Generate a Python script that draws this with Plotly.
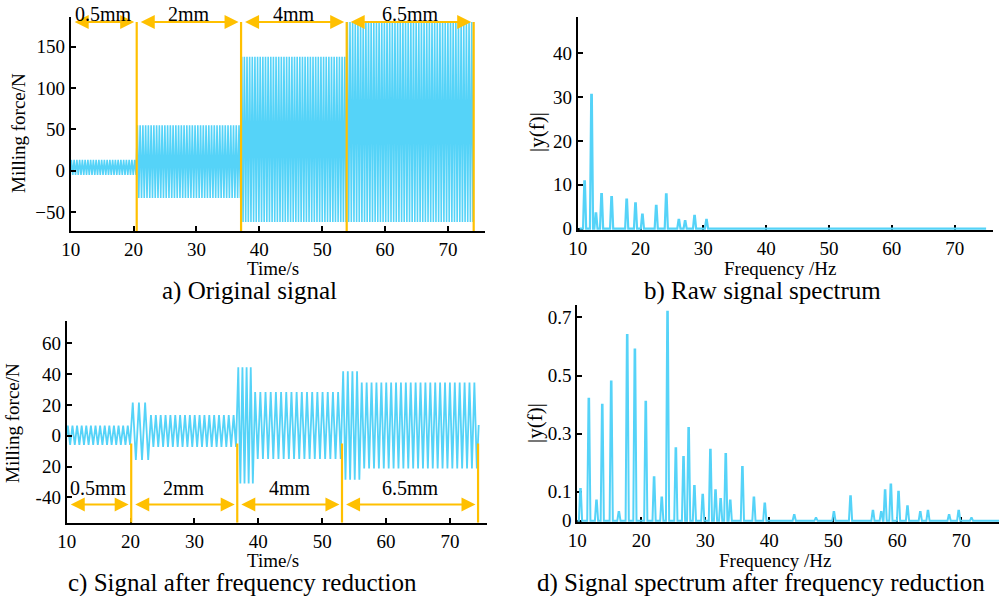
import plotly.graph_objects as go

# ---------------- data ----------------
# a) original signal: segments (start, end, upper, lower, cycles)
a_start = [10.0, 20.5, 37.1, 53.9]
a_end = [20.5, 37.1, 53.9, 74.1]
a_upper = [13, 55, 138, 180]
a_lower = [-5, -33, -62, -62]
a_cycles = [24, 38, 40, 48]
a_bounds = [20.5, 37.1, 53.9, 74.1]
depth_labels = ["0.5mm", "2mm", "4mm", "6.5mm"]

# b) raw signal spectrum peaks
b_freq = [11.1, 12.2, 12.9, 13.8, 15.4, 17.8, 19.2, 20.3, 22.5, 24.1, 26.1, 27.1, 28.6, 30.5]
b_amp = [10.8, 30.5, 3.5, 7.9, 7.2, 6.6, 5.8, 3.2, 5.2, 7.8, 2.0, 1.7, 2.9, 2.0]

# c) signal after frequency reduction
c_start = [10.0, 20.1, 23.0, 36.7, 39.3, 53.1, 56.0]
c_end = [20.1, 23.0, 36.7, 39.3, 53.1, 56.0, 74.4]
c_upper = [6.5, 21.6, 13.4, 44.4, 28.3, 41.8, 34.6]
c_lower = [-6.0, -15.8, -7.3, -31.0, -15.1, -28.6, -21.2]
c_cycles = [14, 3, 18, 4, 17, 4, 24]
c_bounds = [20.1, 36.7, 53.1, 74.4]

# d) spectrum after frequency reduction
d_freq = [10.5, 11.8, 13.0, 13.9, 15.3, 16.5, 17.8, 19.0, 20.7, 22.0, 23.2, 24.1, 25.4,
          26.6, 27.4, 28.3, 29.6, 30.8, 31.6, 32.4, 33.2, 33.9, 35.8, 37.6, 39.3, 43.9,
          47.3, 50.1, 52.7, 56.2, 57.5, 58.1, 59.0, 60.2, 61.6, 63.6, 64.8, 68.1, 69.6, 71.6]
d_amp = [0.11, 0.42, 0.07, 0.40, 0.48, 0.03, 0.64, 0.59, 0.41, 0.15, 0.08, 0.72, 0.25,
         0.22, 0.32, 0.12, 0.09, 0.245, 0.105, 0.075, 0.23, 0.07, 0.185, 0.08, 0.06, 0.02,
         0.01, 0.03, 0.085, 0.035, 0.03, 0.105, 0.125, 0.10, 0.05, 0.03, 0.035, 0.02, 0.035, 0.01]

CYAN = "#55D3F8"
ORANGE = "#FFC000"
FONT = "Liberation Serif, Times New Roman, serif"
W, H = 1002, 596


def zigzag(starts, ends, uppers, lowers, cycles):
    xs, ys = [starts[0]], [0.0]
    for s, e, u, l, n in zip(starts, ends, uppers, lowers, cycles):
        step = (e - s) / (2 * n)
        for k in range(2 * n):
            xs.append(s + (k + 0.5) * step)
            ys.append(u if k % 2 == 0 else l)
    return xs, ys


def spikes(freqs, amps, x0, x1, hw=0.25):
    xs, ys = [x0], [0.0]
    for f, a in zip(freqs, amps):
        xs += [f - hw, f - 0.05, f + 0.05, f + hw]
        ys += [0.0, a, a, 0.0]
    xs.append(x1)
    ys.append(0.0)
    return xs, ys


def px(x):
    return x / W


def py(y):
    return 1 - y / H


fig = go.Figure()

xa, ya = zigzag(a_start, a_end, a_upper, a_lower, a_cycles)
fig.add_trace(go.Scatter(x=xa, y=ya, mode="lines", line=dict(color=CYAN, width=1.6),
                         xaxis="x", yaxis="y", showlegend=False, hoverinfo="skip"))
xb, yb = spikes(b_freq, b_amp, 10.3, 75.0)
fig.add_trace(go.Scatter(x=xb, y=yb, mode="lines", line=dict(color=CYAN, width=2.2),
                         xaxis="x2", yaxis="y2", showlegend=False, hoverinfo="skip"))
xc, yc = zigzag(c_start, c_end, c_upper, c_lower, c_cycles)
xc.append(c_end[-1] + 0.1)
yc.append(7)
fig.add_trace(go.Scatter(x=xc, y=yc, mode="lines", line=dict(color=CYAN, width=1.8),
                         xaxis="x3", yaxis="y3", showlegend=False, hoverinfo="skip"))
xd, yd = spikes(d_freq, d_amp, 10.0, 75.9)
fig.add_trace(go.Scatter(x=xd, y=yd, mode="lines", line=dict(color=CYAN, width=2.0),
                         xaxis="x4", yaxis="y4", showlegend=False, hoverinfo="skip"))

tickfont = dict(family=FONT, size=19, color="black")
axcommon = dict(showgrid=False, zeroline=False, showline=True, linecolor="black", linewidth=2,
                ticks="inside", ticklen=5, tickwidth=2, tickcolor="black", tickfont=tickfont,
                automargin=False)

fig.update_layout(
    template="none",
    width=W, height=H, margin=dict(l=0, r=0, t=0, b=0, pad=0),
    paper_bgcolor="white", plot_bgcolor="white", showlegend=False,
    xaxis=dict(axcommon, domain=[px(70.7), px(485)], range=[10, 75.9], tickvals=[10, 20, 30, 40, 50, 60, 70],
               anchor="y"),
    yaxis=dict(axcommon, domain=[py(231), py(17)], range=[-73, 186], tickvals=[-50, 0, 50, 100, 150],
               anchor="x"),
    xaxis2=dict(axcommon, domain=[px(577.7), px(993)], range=[10, 76.1], tickvals=[10, 20, 30, 40, 50, 60, 70],
                anchor="y2", layer="below traces"),
    yaxis2=dict(axcommon, domain=[py(230), py(16.7)], range=[-0.3, 48.3], tickvals=[0, 10, 20, 30, 40],
                anchor="x2", layer="below traces"),
    xaxis3=dict(axcommon, domain=[px(66.7), px(487)], range=[10, 75.8], tickvals=[10, 20, 30, 40, 50, 60, 70],
                anchor="y3"),
    yaxis3=dict(axcommon, domain=[py(522.7), py(320.7)], range=[-56.5, 74.7],
                tickvals=[-40, -20, 0, 20, 40, 60], ticktext=["-40", "20", "0", "20", "40", "60"], anchor="x3"),
    xaxis4=dict(axcommon, domain=[px(577.3), px(999)], range=[10, 75.9], tickvals=[10, 20, 30, 40, 50, 60, 70],
                anchor="y4", layer="below traces"),
    yaxis4=dict(axcommon, domain=[py(522), py(305)], range=[-0.004, 0.743],
                tickvals=[0, 0.1, 0.3, 0.5, 0.7], ticktext=["0", "0.1", "0.3", "0.5", "0.7"],
                anchor="x4", layer="below traces"),
)

shapes = []
annotations = []


def add_markup(xref, yref, starts0, bounds, line_bottom, line_top, arrow_y, label_y, label_yref):
    prev = starts0
    for b, lab in zip(bounds, depth_labels):
        shapes.append(dict(type="line", xref=xref, yref=yref, x0=b, x1=b, y0=line_bottom, y1=line_top,
                           line=dict(color=ORANGE, width=2.2)))
        annotations.append(dict(xref=xref, yref=yref, axref=xref, ayref=yref,
                                x=b - 0.4, y=arrow_y, ax=prev + 0.4, ay=arrow_y, text="",
                                showarrow=True, arrowside="end+start", arrowhead=2, startarrowhead=2,
                                arrowsize=1.4, startarrowsize=1.4, arrowwidth=2, arrowcolor=ORANGE,
                                standoff=0, startstandoff=0))
        annotations.append(dict(xref=xref, yref=label_yref, x=(prev + b) / 2, y=label_y, text=lab,
                                showarrow=False, yanchor="middle",
                                font=dict(family=FONT, size=20, color="black")))
        prev = b


add_markup("x", "y", 10.0, a_bounds, -73, 180, 180, py(13.5), "paper")
add_markup("x3", "y3", 10.0, c_bounds, -56.5, -5, -44.6, -34, "y3")


def text(x, y, s, size=19, angle=0):
    annotations.append(dict(xref="paper", yref="paper", x=px(x), y=py(y), text=s, showarrow=False,
                            textangle=angle, xanchor="center", yanchor="middle",
                            font=dict(family=FONT, size=size, color="black")))


text(273, 268, "Time/s")
text(780, 268, "Frequency /Hz")
text(273, 560, "Time/s")
text(775, 560, "Frequency /Hz")
text(18, 133, "Milling force/N", angle=-90)
text(537, 132, "|y(f)|", angle=-90, size=21)
text(13, 423, "Milling force/N", angle=-90)
text(535, 423, "|y(f)|", angle=-90, size=21)
text(249, 291, "a) Original signal", size=25)
text(762, 291, "b) Raw signal spectrum", size=25)
text(242, 582.5, "c) Signal after frequency reduction", size=25)
text(761, 582.5, "d) Signal spectrum after frequency reduction", size=25)

fig.update_layout(shapes=shapes, annotations=annotations)
fig.write_html("out.html",
               config={"displayModeBar": False},
               post_script="document.body.style.margin='0';document.body.style.padding='0';"
                           "document.documentElement.style.overflow='hidden';")
